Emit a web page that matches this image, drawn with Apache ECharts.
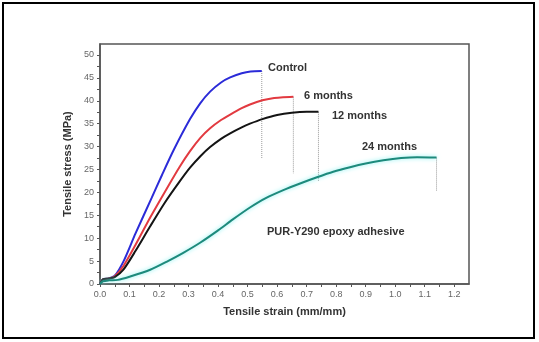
<!DOCTYPE html>
<html>
<head>
<meta charset="utf-8">
<script src="https://cdn.jsdelivr.net/npm/echarts@6/dist/echarts.min.js"></script>
<style>
  html, body { margin: 0; padding: 0; background: #fff; }
  #chart { width: 539px; height: 342px; }
</style>
</head>
<body>
<div id="chart"></div>
<script>
// stress-strain curves, [strain, stress]
var control = [[0, 0], [0.01, 1.0], [0.03, 1.2], [0.05, 1.8], [0.08, 5.0], [0.12, 11.0], [0.175, 18.8], [0.21, 23.8], [0.25, 29.3], [0.305, 36.0], [0.34, 39.5], [0.373, 42.0], [0.41, 44.0], [0.441, 45.1], [0.48, 46.0], [0.51, 46.4], [0.548, 46.5]]
var months6 = [[0, 0], [0.01, 1.0], [0.03, 1.2], [0.05, 1.7], [0.08, 4.0], [0.12, 8.5], [0.17, 14.5], [0.226, 20.8], [0.27, 25.6], [0.305, 29.0], [0.34, 31.9], [0.373, 34.0], [0.41, 35.8], [0.441, 37.0], [0.48, 38.4], [0.508, 39.2], [0.55, 40.1], [0.59, 40.6], [0.62, 40.8], [0.655, 40.9]]
var months12 = [[0, 0], [0.01, 1.0], [0.03, 1.2], [0.05, 1.5], [0.08, 3.2], [0.12, 7.2], [0.17, 12.6], [0.22, 17.8], [0.27, 22.4], [0.305, 25.4], [0.34, 27.9], [0.373, 29.9], [0.41, 31.7], [0.441, 32.9], [0.48, 34.2], [0.508, 35.0], [0.55, 36.0], [0.6, 36.9], [0.65, 37.4], [0.70, 37.6], [0.74, 37.6]]
var months24 = [[0, 0], [0.01, 0.6], [0.03, 0.8], [0.06, 0.9], [0.10, 1.6], [0.17, 3.1], [0.23, 5.0], [0.282, 6.8], [0.339, 9.0], [0.40, 11.7], [0.45, 14.1], [0.508, 16.7], [0.56, 18.7], [0.621, 20.5], [0.68, 22.0], [0.735, 23.3], [0.79, 24.5], [0.847, 25.5], [0.9, 26.3], [0.96, 27.0], [1.02, 27.5], [1.074, 27.7], [1.14, 27.6]]
// where the fracture drop lines end
var dropLow = [27.3, 24.2, 22.3, 20.2]

var xLabels = [0, 0.1, 0.2, 0.3, 0.4, 0.5, 0.6, 0.7, 0.8, 0.9, 1.0, 1.1, 1.2]
var yLabels = [0, 5, 10, 15, 20, 25, 30, 35, 40, 45, 50]

var xTicks = []
for (var i = 0; i <= 24; i++) xTicks.push(+(i * 0.05).toFixed(2))
var yTicks = []
for (var j = 0; j <= 20; j++) yTicks.push(j * 2.5)

var curves = [control, months6, months12, months24]
var colors = ['#2b2bd8', '#e23a40', '#141414', '#1d8a7c']

var series = []
curves.forEach(function (c, k) {
  series.push({
    type: 'line',
    data: c,
    smooth: 0.25,
    showSymbol: false,
    z: 3,
    lineStyle: k === 3
      ? { color: colors[k], width: 2, shadowColor: '#7ff0f0', shadowBlur: 4 }
      : { color: colors[k], width: 2 }
  })
  var last = c[c.length - 1]
  series.push({
    type: 'line',
    data: [[last[0], last[1]], [last[0], dropLow[k]]],
    showSymbol: false,
    z: 2,
    lineStyle: { color: '#9a9a9a', width: 1, type: 'dotted' }
  })
})

var txt = { fill: '#333', fontFamily: 'Liberation Sans', fontWeight: 'bold', fontSize: 11 }
function label(s, x, y) {
  return { type: 'text', left: x, top: y, style: Object.assign({ text: s }, txt) }
}

var chart = echarts.init(document.getElementById('chart'))
chart.setOption({
  animation: false,
  grid: { left: 100, top: 44, width: 369, height: 240, show: true, borderColor: '#555', borderWidth: 1.5 },
  xAxis: {
    type: 'value',
    min: 0,
    max: 1.25,
    name: 'Tensile strain (mm/mm)',
    nameLocation: 'middle',
    nameGap: 22,
    nameTextStyle: { color: '#333', fontFamily: 'Liberation Sans', fontWeight: 'bold', fontSize: 11 },
    splitLine: { show: false },
    axisLine: { lineStyle: { color: '#555', width: 1.5 } },
    axisTick: { length: 3, customValues: xTicks, lineStyle: { color: '#555' } },
    axisLabel: {
      customValues: xLabels,
      color: '#666',
      fontSize: 9,
      fontFamily: 'Liberation Sans',
      margin: 6,
      formatter: function (v) { return v.toFixed(1) }
    }
  },
  yAxis: {
    type: 'value',
    min: 0,
    max: 52.4,
    name: 'Tensile stress (MPa)',
    nameLocation: 'middle',
    nameGap: 27,
    nameTextStyle: { color: '#333', fontFamily: 'Liberation Sans', fontWeight: 'bold', fontSize: 11 },
    splitLine: { show: false },
    axisLine: { lineStyle: { color: '#555', width: 1.5 } },
    axisTick: { length: 3, customValues: yTicks, lineStyle: { color: '#555' } },
    axisLabel: { customValues: yLabels, color: '#666', fontSize: 9, fontFamily: 'Liberation Sans', margin: 6 }
  },
  graphic: [
    { type: 'rect', shape: { x: 3, y: 3, width: 531, height: 335 }, style: { fill: 'none', stroke: '#000', lineWidth: 2 } },
    label('Control', 268, 62),
    label('6 months', 304, 90),
    label('12 months', 332, 110),
    label('24 months', 362, 141),
    label('PUR-Y290 epoxy adhesive', 267, 226)
  ],
  series: series
})
</script>
</body>
</html>
